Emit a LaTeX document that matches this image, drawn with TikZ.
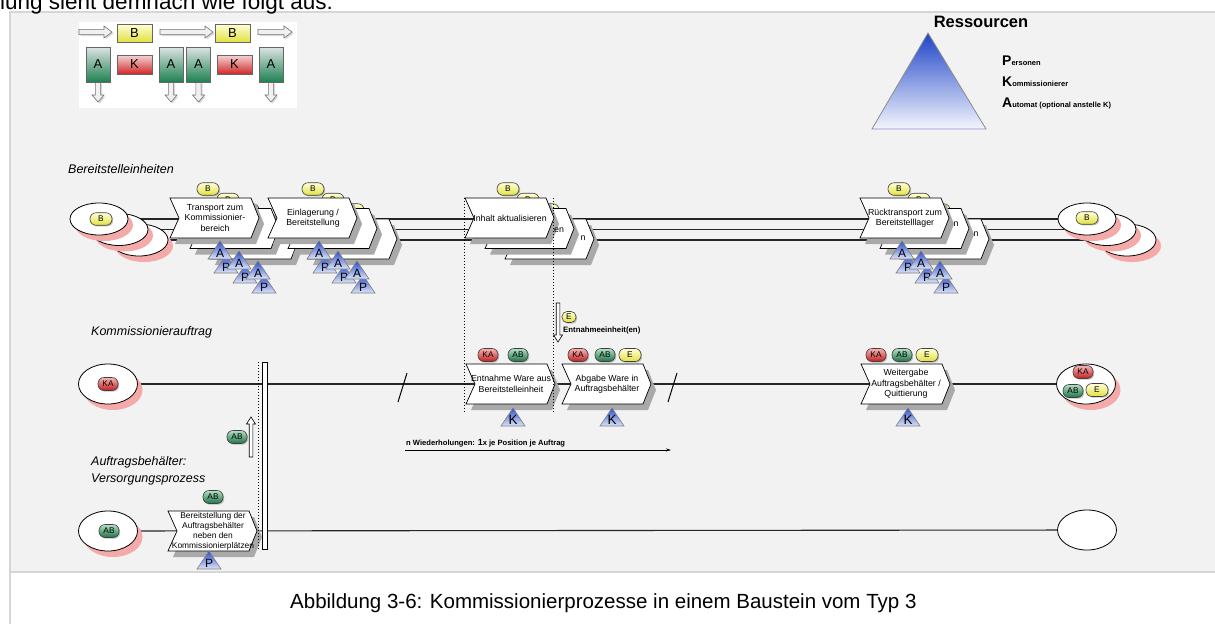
\documentclass[tikz,border=0pt]{standalone}
\usepackage{fontspec}
\setmainfont{Liberation Sans}
\usetikzlibrary{shapes.geometric,shadows,arrows.meta}
\pgfdeclarelayer{back}
\pgfdeclarelayer{lines}
\pgfsetlayers{back,lines,main}

\definecolor{bgc}{HTML}{F2F2F2}
\definecolor{framec}{HTML}{D6D6D6}
\definecolor{pinkc}{HTML}{F5AAAA}
\definecolor{shadc}{HTML}{A9A9A9}
\definecolor{ytop}{HTML}{FFFFD8}
\definecolor{ybot}{HTML}{E2E040}
\definecolor{rtop}{HTML}{F7B4B4}
\definecolor{rbot}{HTML}{C41E1E}
\definecolor{gtop}{HTML}{B4E0C4}
\definecolor{gbot}{HTML}{1C7446}
\definecolor{btop}{HTML}{2D4FCC}
\definecolor{bbot}{HTML}{DCE4F8}
\definecolor{restop}{HTML}{1E44C8}
\definecolor{resbot}{HTML}{F4F6FD}
\definecolor{lgatop}{HTML}{DCE4E4}
\definecolor{lgamid}{HTML}{6CC0A4}
\definecolor{lgabot}{HTML}{1E8050}
\definecolor{lgktop}{HTML}{F6D4D4}
\definecolor{lgkbot}{HTML}{D02828}

\tikzset{
 pill/.style={draw=black!75, line width=0.6pt, rounded corners=6pt, minimum height=13pt, minimum width=20pt, inner sep=0pt, font=\fontsize{8.3}{8.3}\selectfont, drop shadow={shadow xshift=1.2pt, shadow yshift=-1.2pt, fill=black!40, opacity=0.6}},
 ypill/.style={pill, top color=ytop, bottom color=ybot, minimum width=22pt, minimum height=12.5pt},
 rpill/.style={pill, top color=rtop, bottom color=rbot},
 gpill/.style={pill, top color=gtop, bottom color=gbot},
 epill/.style={pill, top color=ytop, bottom color=ybot, minimum width=22pt},
 smallepill/.style={pill, top color=ytop, bottom color=ybot, minimum width=14pt, minimum height=11pt, rounded corners=5pt},
 ell/.style={ellipse, draw=black, line width=0.8pt, fill=white, inner sep=0pt, minimum width=58pt, minimum height=32pt, drop shadow={shadow xshift=5pt, shadow yshift=-6pt, fill=pinkc, opacity=1}},
 bigell/.style={ell, minimum width=59pt, minimum height=40pt},
 plainell/.style={ellipse, draw=black, line width=0.8pt, fill=white, inner sep=0pt, minimum width=59pt, minimum height=40pt},
 flow/.style={line width=1.1pt, draw=black!85},
 chevbody/.style={draw=black, line width=0.7pt, fill=white},
 chevtext/.style={align=center, inner sep=0pt, font=\fontsize{8.8}{10.5}\selectfont},
 trishape/.style={draw=black!50, line width=0.6pt, top color=btop, bottom color=bbot},
 trilabel/.style={inner sep=0pt, font=\fontsize{12}{12}\selectfont},
 klabel/.style={inner sep=0pt, font=\fontsize{13.5}{13.5}\selectfont},
 hollow/.style={fill=white, draw=black, line width=0.6pt},
 larrow/.style={fill=black!6, draw=black!55, line width=0.6pt, drop shadow={shadow xshift=1.5pt, shadow yshift=-1.5pt, opacity=0.3}},
 lgbox/.style={draw=black!60, line width=0.6pt, inner sep=0pt, font=\fontsize{13}{13}\selectfont},
 rowlabel/.style={anchor=base west, inner sep=0pt, font=\itshape\fontsize{12.5}{12.5}\selectfont},
 reslabel/.style={anchor=base west, inner sep=0pt, font=\bfseries}
}

\newcommand\chev[5][]{%
 \begin{scope}[shift={(#3,#4)}]
 \fill[shadc] (5,6) -- (86,6) -- (94,26) -- (86,46) -- (5,46) -- (14,26) -- cycle;
 \draw[chevbody] (0,0) -- (81,0) -- (89,20) -- (81,40) -- (0,40) -- (9,20) -- cycle;
 \node[chevtext,#1] (#2) at (45,20) {#5};
 \end{scope}}

\newcommand\chevstack[5]{%
 \node[ypill] (#1b3) at (#4+40,210) {};
 \chev{#1c3}{#2+40}{#3+21}{}
 \node[ypill] (#1b2) at (#4+20,199.5) {B};
 \chev{#1c2}{#2+20}{#3+10.5}{}
 \node[ypill] (#1b1) at (#4,189) {B};
 \chev{#1c1}{#2}{#3}{#5}}

\newcommand\mytri[5][trilabel]{%
 \path[trishape] (#3,#4) -- (#3+12,#4+18) -- (#3-12,#4+18) -- cycle;
 \node[#1] (#2) at (#3,#4+12) {#5};}

\newcommand\aptri[3]{%
 \mytri{#1p1}{#2+6}{#3+14}{P}\mytri{#1a1}{#2}{#3}{A}%
 \mytri{#1p2}{#2+25}{#3+24}{P}\mytri{#1a2}{#2+19}{#3+10}{A}%
 \mytri{#1p3}{#2+44}{#3+34}{P}\mytri{#1a3}{#2+38}{#3+20}{A}}

\newcommand\lgrarr[3]{\draw[larrow] (#1,#3-2.6) -- (#2-8,#3-2.6) -- (#2-8,#3-6) -- (#2,#3) -- (#2-8,#3+6) -- (#2-8,#3+2.6) -- (#1,#3+2.6) -- cycle;}
\newcommand\lgdarr[3]{\draw[larrow] (#1-2.6,#2) -- (#1-2.6,#3-7) -- (#1-6,#3-7) -- (#1,#3) -- (#1+6,#3-7) -- (#1+2.6,#3-7) -- (#1+2.6,#2) -- cycle;}

\begin{document}
\begin{tikzpicture}[x=1pt,y=-1pt]
\useasboundingbox (0,0) rectangle (1215,624);
\begin{pgfonlayer}{back}
 \fill[white] (0,0) rectangle (1215,624);
 \fill[bgc] (10,12) rectangle (1215,572);
 \draw[framec, line width=1.5pt] (1215,12) -- (10,12) -- (10,624);
 \draw[framec, line width=1.5pt] (10,572) -- (1215,572);
\end{pgfonlayer}

% cut text at top
\node[anchor=base west, inner sep=0pt, font=\fontsize{22.5}{22.5}\selectfont] (toptext) at (0,9) {lung sieht demnach wie folgt aus:};

% legend picture
\fill[white] (79,22) rectangle (297,108);
\lgrarr{79}{112}{32}
\lgrarr{160}{213}{32}
\lgrarr{258}{292}{32}
\node[lgbox, top color=ytop, bottom color=ybot, minimum width=35pt, minimum height=18pt] (lgB1) at (134.5,33) {B};
\node[lgbox, top color=ytop, bottom color=ybot, minimum width=35pt, minimum height=18pt] (lgB2) at (232.5,33) {B};
\node[lgbox, top color=lgktop, bottom color=lgkbot, minimum width=35pt, minimum height=19pt] (lgK1) at (134.5,64.5) {K};
\node[lgbox, top color=lgktop, bottom color=lgkbot, minimum width=35pt, minimum height=19pt] (lgK2) at (234.5,64.5) {K};
\lgdarr{98}{82}{102}
\lgdarr{171}{82}{102}
\lgdarr{198.5}{82}{102}
\lgdarr{271}{82}{102}
\node[lgbox, top color=lgatop, middle color=lgamid, bottom color=lgabot, minimum width=24pt, minimum height=35pt] (lgA1) at (98,64.5) {A};
\node[lgbox, top color=lgatop, middle color=lgamid, bottom color=lgabot, minimum width=24pt, minimum height=35pt] (lgA2) at (171,64.5) {A};
\node[lgbox, top color=lgatop, middle color=lgamid, bottom color=lgabot, minimum width=24pt, minimum height=35pt] (lgA3) at (198.5,64.5) {A};
\node[lgbox, top color=lgatop, middle color=lgamid, bottom color=lgabot, minimum width=24pt, minimum height=35pt] (lgA4) at (271,64.5) {A};

% resources
\path[draw=black!45, line width=0.8pt, top color=restop, bottom color=resbot] (928,33) -- (986,129) -- (872,129) -- cycle;
\draw[blue!20, line width=0.8pt] (872,129) -- (986,129);
\node[anchor=base, inner sep=0pt, font=\bfseries\fontsize{16.5}{16.5}\selectfont] (ress) at (981,27) {Ressourcen};
\node[reslabel] (resP) at (1002,65) {{\fontsize{14}{14}\selectfont P}{\fontsize{7.5}{7.5}\selectfont ersonen}};
\node[reslabel] (resK) at (1002,86.5) {{\fontsize{14}{14}\selectfont K}{\fontsize{7.5}{7.5}\selectfont ommissionierer}};
\node[reslabel] (resA) at (1002,107) {{\fontsize{14}{14}\selectfont A}{\fontsize{7.5}{7.5}\selectfont utomat (optional anstelle K)}};

% row labels
\node[rowlabel] (lab1) at (68,173) {Bereitstelleinheiten};
\node[rowlabel] (lab2) at (91,335) {Kommissionierauftrag};
\node[rowlabel] (lab3a) at (91,465) {Auftragsbehälter:};
\node[rowlabel] (lab3b) at (91,482) {Versorgungsprozess};

% row 1 ellipses
\node[ell] (L3) at (139,240) {};
\node[ell] (L2) at (119,229.5) {};
\node[ell] (L1) at (99,219) {};
\node[ypill] (LB) at (101,219) {B};
\node[ell] (R3) at (1127,240) {};
\node[ell] (R2) at (1107,229.5) {};
\node[ell] (R1) at (1087,219) {};
\node[ypill] (RB) at (1087,218) {B};

% row 2 ellipses
\node[bigell] (KAs) at (108,384) {};
\node[rpill] (KAs1) at (108,384) {KA};
\node[bigell] (KAe) at (1086,384) {};
\node[rpill] (KAe1) at (1083,372) {KA};
\node[gpill] (KAe2) at (1073,391) {AB};
\node[epill] (KAe3) at (1097,390) {E};

% row 3 ellipses
\node[bigell] (ABs) at (108,531) {};
\node[gpill] (ABs1) at (109,531) {AB};
\node[plainell] (ABe) at (1087,530) {};

% flow lines
\begin{pgfonlayer}{lines}
 \draw[flow] (L1) -- (R1);
 \draw[flow] (L2) -- (R2);
 \draw[flow] (L3) -- (R3);
 \draw[flow] (KAs) -- (KAe);
 \draw[flow] (ABs) -- (ABe);
\end{pgfonlayer}

% row 1 stacks
\chevstack{tr}{170}{198}{208}{Transport zum\\Kommissionier-\\bereich}
\chevstack{ei}{268}{198}{313}{Einlagerung /\\Bereitstellung}
\chevstack{in}{465}{198}{508}{Inhalt aktualisieren}
\node[chevtext] (inf2) at (559,230) {en};
\node[chevtext] (inf3) at (583,238.5) {n};
\chevstack{rt}{860}{198}{899}{Rücktransport zum\\Bereitstelllager}
\node[chevtext] (rtf2) at (956,224) {n};
\node[chevtext] (rtf3) at (976,234) {n};
\aptri{tr}{220}{241}
\aptri{ei}{319}{241}
\aptri{rt}{902}{241}

% row 2 process steps
\chev{en}{466}{364}{Entnahme Ware aus\\Bereitstelleinheit}
\chev{ab}{562}{364}{Abgabe Ware in\\Auftragsbehälter}
\chev{wg}{861}{364}{Weitergabe\\Auftragsbehälter /\\Quittierung}
\node[rpill] (en1) at (488,355) {KA};
\node[gpill] (en2) at (518,355) {AB};
\node[rpill] (ab1) at (578,355) {KA};
\node[gpill] (ab2) at (605,355) {AB};
\node[epill] (ab3) at (630,355) {E};
\node[rpill] (wg1) at (876,355) {KA};
\node[gpill] (wg2) at (902,355) {AB};
\node[epill] (wg3) at (927,355) {E};
\mytri[klabel]{enK}{513}{408}{K}
\mytri[klabel]{abK}{612}{408}{K}
\mytri[klabel]{wgK}{908}{408}{K}

% breaks
\draw[line width=1pt] (398,402) -- (407,373);
\draw[line width=1pt] (668,402) -- (677,373);

% dotted column
\draw[dotted, line width=1pt] (464,198) -- (464,413);
\draw[dotted, line width=1pt] (553,198) -- (553,413);

% E arrow
\draw[hollow] (556.2,303) -- (556.2,335) -- (553.5,335) -- (558,342) -- (562.5,335) -- (559.8,335) -- (559.8,303) -- cycle;
\node[smallepill] (eP) at (569,317) {E};
\node[anchor=base west, inner sep=0pt, font=\bfseries\fontsize{7.8}{7.8}\selectfont] (eText) at (563,332) {Entnahmeeinheit(en)};

% repetitions
\node[anchor=base west, inner sep=0pt, font=\bfseries\fontsize{7.6}{7.6}\selectfont] (wied) at (406,445) {n Wiederholungen: {\fontsize{9}{9}\selectfont 1}x je Position je Auftrag};
\coordinate (w1) at (405,450);
\coordinate (w2) at (671,450);
\draw[line width=0.7pt, -{Stealth[length=5pt,width=3pt]}] (w1) -- (w2);

% row 3
\chev[font=\fontsize{8.4}{10}\selectfont]{bs}{168}{511}{Bereitstellung der\\Auftragsbehälter\\neben den\\Kommissionierplätzen}
\node[gpill] (bs1) at (213,497) {AB};
\mytri{bsP}{209}{551}{P}

% barrier
\draw[dotted, line width=1pt] (258.5,362) -- (258.5,549);
\node[draw=black, line width=0.7pt, fill=white, minimum width=5pt, minimum height=187pt, inner sep=0pt] (bar) at (264.5,455.5) {};
\draw[hollow] (249.2,457) -- (249.2,424) -- (246.5,424) -- (251,417) -- (255.5,424) -- (252.8,424) -- (252.8,457) -- cycle;
\node[gpill] (barAB) at (237,437) {AB};

% caption
\node[anchor=base west, inner sep=0pt, font=\fontsize{20.5}{20.5}\selectfont] (cap) at (290,608) {Abbildung 3-6: Kommissionierprozesse in einem Baustein vom Typ 3};
\end{tikzpicture}
\end{document}
